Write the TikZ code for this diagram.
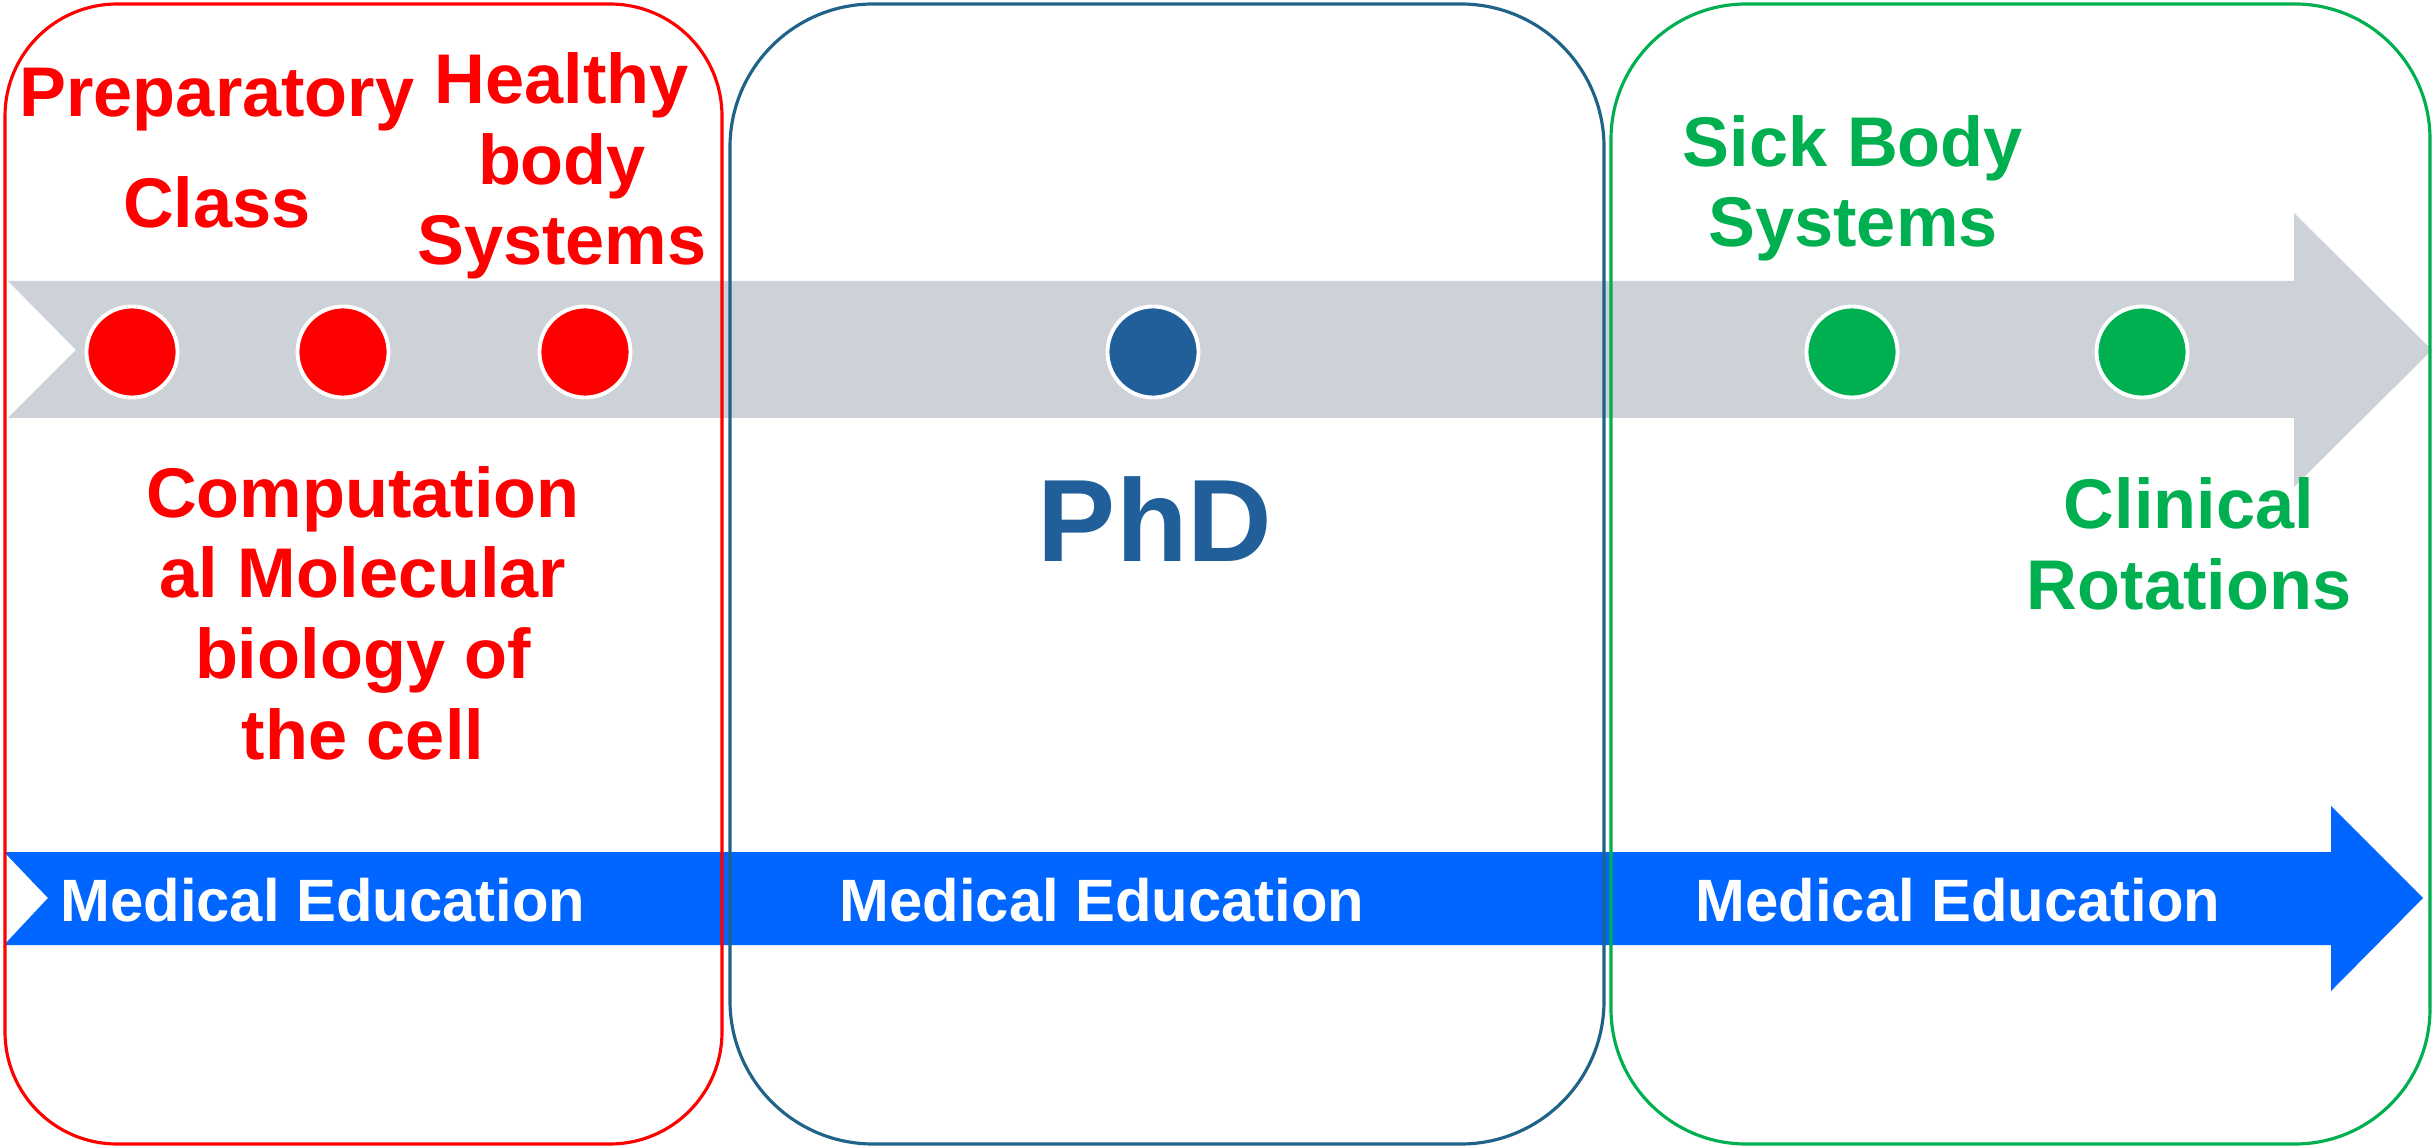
\documentclass[tikz,border=0pt]{standalone}
\usepackage{fontspec}
\setmainfont{Liberation Sans}
\definecolor{tlred}{HTML}{FF0000}
\definecolor{phdframe}{HTML}{1F6389}
\definecolor{phdblue}{HTML}{215F9A}
\definecolor{tlgreen}{HTML}{00B050}
\definecolor{bargray}{HTML}{CDD2D8}
\definecolor{barblue}{HTML}{0066FF}
\begin{document}
\begin{tikzpicture}[x=0.01cm,y=-0.01cm,dot/.style={circle, draw=white, line width=1.1pt, minimum size=0.91cm, inner sep=0pt},phase/.style={line width=0.9pt},lbl/.style={font=\bfseries\fontsize{20}{22.9}\selectfont, align=center, anchor=base, inner sep=0pt},edu/.style={text=white, font=\bfseries\fontsize{17}{20}\selectfont, anchor=base, inner sep=0pt},]
                    \useasboundingbox (0,0) rectangle (2433,1146);
                    \fill[bargray] (8,281) -- (2294,281) -- (2294,213) -- (2432,350) -- (2294,487) -- (2294,418) -- (8,418) -- (76,350) -- cycle;
                    \fill[barblue] (4,852) -- (2331,852) -- (2331,806) -- (2423,898) -- (2331,991) -- (2331,945) -- (4,945) -- (48,898) -- cycle;
                    \draw[phase, tlred, rounded corners=1.12cm] (5,4) rectangle (722,1144);
                    \draw[phase, phdframe, rounded corners=1.43cm] (730,4) rectangle (1604,1144);
                    \draw[phase, tlgreen, rounded corners=1.35cm] (1611,4) rectangle (2430,1144);
                    \node[dot, fill=tlred] (prep_dot) at (132,352) {};
                    \node[dot, fill=tlred] (cell_dot) at (343,352) {};
                    \node[dot, fill=tlred] (healthy_dot) at (585,352) {};
                    \node[dot, fill=phdblue] (phd_dot) at (1153,352) {};
                    \node[dot, fill=tlgreen] (sick_dot) at (1852,352) {};
                    \node[dot, fill=tlgreen] (clin_dot) at (2142,352) {};
                    \node[lbl, text=tlred] (prep) at (217,228) {Preparatory\\[0.31cm]Class};
                    \node[lbl, text=tlred] (healthy) at (562,265) {Healthy\\body\\Systems};
                    \node[lbl, text=tlred] (cell) at (363,759) {Computation\\al Molecular\\biology of\\the cell};
                    \node[lbl, text=phdblue, font=\bfseries\fontsize{33.3}{40}\selectfont] (phd) at (1155,561) {PhD};
                    \node[lbl, text=tlgreen] (sick) at (1853,247) {Sick Body\\Systems};
                    \node[lbl, text=tlgreen] (clin) at (2189,609) {Clinical\\Rotations};
                    \node[edu] (edu1) at (323,921) {Medical Education};
                    \node[edu] (edu2) at (1102,921) {Medical Education};
                    \node[edu] (edu3) at (1958,921) {Medical Education};
                \end{tikzpicture}
\end{document}
